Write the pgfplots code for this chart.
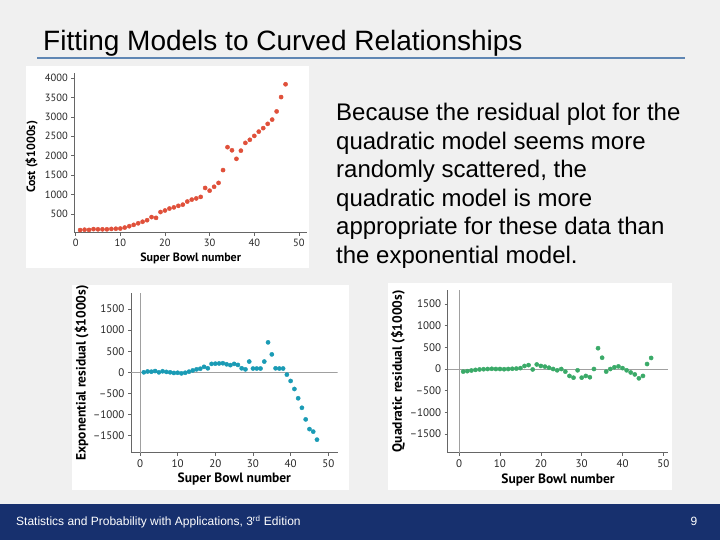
\documentclass[border=0pt]{standalone}
\usepackage{pgfplots}
\pgfplotsset{compat=1.18}
\usepackage{fontspec}
\setmainfont{Liberation Sans}
\newfontfamily\plotfont{PT Sans}

\definecolor{slidebg}{HTML}{F0F0F0}
\definecolor{footbg}{HTML}{17306E}
\definecolor{rulecol}{HTML}{5F86B3}
\definecolor{costred}{HTML}{E0503A}
\definecolor{expteal}{HTML}{1A9BB5}
\definecolor{quadgreen}{HTML}{3AAA68}
\definecolor{axgray}{HTML}{666666}
\definecolor{zerogray}{HTML}{A0A0A0}

\newcommand{\labfont}{\plotfont\bfseries\fontsize{13.5}{15}\selectfont}
\newcommand{\smalllabfont}{\plotfont\bfseries\fontsize{12}{13}\selectfont}
\pgfplotsset{
  panel/.style={
    scale only axis,
    anchor=south west,
    axis lines=left,
    axis line style={-, axgray, line width=0.6pt},
    tick style={axgray, line width=0.6pt},
    tick align=outside,
    major tick length=3pt,
    /pgf/number format/assume math mode=true,
    /pgf/number format/1000 sep={},
    tick label style={font=\plotfont\fontsize{11}{12}\selectfont, text=black!85},
  },
}

\begin{document}
\begin{tikzpicture}
\fill[slidebg] (0pt,0pt) rectangle (720pt,540pt);
\fill[footbg] (0pt,0pt) rectangle (720pt,36pt);
\draw[rulecol, line width=2pt] (37pt,482.3pt) -- (685pt,482.3pt);
\node[anchor=base west, inner sep=0pt, font=\fontsize{28}{33}\selectfont] at (43pt,489pt) {Fitting Models to Curved Relationships};
\node[anchor=base west, inner sep=0pt, text=white, font=\fontsize{12}{14}\selectfont] at (16pt,14pt) {Statistics and Probability with Applications, 3\textsuperscript{rd} Edition};
\node[anchor=base, inner sep=0pt, text=white, font=\fontsize{12}{14}\selectfont] at (694pt,14pt) {9};
\begin{scope}[every node/.style={anchor=base west, inner sep=0pt, font=\fontsize{24}{28}\selectfont}]
\node at (336pt,419pt) {Because the residual plot for the};
\node at (336pt,390.5pt) {quadratic model seems more};
\node at (336pt,362pt) {randomly scattered, the};
\node at (336pt,333.5pt) {quadratic model is more};
\node at (336pt,305pt) {appropriate for these data than};
\node at (336pt,276.5pt) {the exponential model.};
\end{scope}

\fill[white] (26pt,272pt) rectangle (309pt,474pt);
\fill[white] (72pt,50pt) rectangle (349pt,255pt);
\fill[white] (388pt,50pt) rectangle (672pt,257pt);

% cost against Super Bowl number
\begin{axis}[panel, at={(74.3pt,307.3pt)}, width=232.7pt, height=159.7pt,
  xmin=-0.3, xmax=51.8, ymin=18, ymax=4130,
  xtick={0,10,...,50}, ytick={500,1000,...,4000},
  tick label style={font=\plotfont\fontsize{10.5}{11}\selectfont},
  xlabel={Super Bowl number}, ylabel={Cost (\$1000s)},
  xlabel style={at={(axis description cs:0.5,-0.182)}, anchor=base, font=\smalllabfont},
  ylabel style={at={(axis description cs:-0.183,0.474)}, anchor=center, font=\smalllabfont}]
\addplot[only marks, mark=*, mark size=2.1pt, color=costred] coordinates {
(1,85) (2,95) (3,90) (4,110) (5,105) (6,105) (7,105) (8,115) (9,120) (10,125)
(11,150) (12,185) (13,220) (14,260) (15,300) (16,340) (17,420) (18,400) (19,550) (20,590)
(21,640) (22,670) (23,710) (24,740) (25,820) (26,870) (27,900) (28,940) (29,1170) (30,1100)
(31,1200) (32,1300) (33,1630) (34,2220) (35,2140) (36,1920) (37,2130) (38,2330) (39,2410) (40,2510)
(41,2620) (42,2710) (43,2820) (44,2930) (45,3140) (46,3510) (47,3840)};
\end{axis}

% exponential model residuals
\begin{axis}[panel, at={(131pt,87.3pt)}, width=206.7pt, height=159.4pt,
  xmin=-2.4, xmax=52.5, ymin=-1904, ymax=1872,
  xtick={0,10,...,50}, ytick={-1500,-1000,...,1500},
  yticklabels={\textendash 1500,\textendash 1000,\textendash 500,0,500,1000,1500},
  xlabel={Super Bowl number}, ylabel={Exponential residual (\$1000s)},
  xlabel style={at={(axis description cs:0.5,-0.19)}, anchor=base, font=\labfont},
  ylabel style={at={(axis description cs:-0.2385,0.5)}, anchor=center, font=\labfont}]
\addplot[zerogray, line width=0.8pt, no marks] coordinates {(-2.4,0) (52.5,0)};
\addplot[zerogray, line width=0.8pt, no marks] coordinates {(0,-1904) (0,1872)};
\addplot[only marks, mark=*, mark size=2.1pt, color=expteal] coordinates {
(1,0) (2,20) (3,15) (4,30) (5,0) (6,25) (7,10) (8,0) (9,-15) (10,-10)
(11,-25) (12,-10) (13,15) (14,45) (15,70) (16,85) (17,130) (18,95) (19,200) (20,205)
(21,210) (22,215) (23,190) (24,170) (25,200) (26,175) (27,95) (28,70) (29,255) (30,90)
(31,90) (32,90) (33,255) (34,710) (35,425) (36,95) (37,90) (38,90) (39,-55) (40,-205)
(41,-395) (42,-615) (43,-840) (44,-1115) (45,-1345) (46,-1405) (47,-1595)};
\end{axis}

% quadratic model residuals
\begin{axis}[panel, at={(447.7pt,87.3pt)}, width=220.6pt, height=162.7pt,
  xmin=-2.8, xmax=51.2, ymin=-1931, ymax=1823,
  xtick={0,10,...,50}, ytick={-1500,-1000,...,1500},
  yticklabels={\textendash 1500,\textendash 1000,\textendash 500,0,500,1000,1500},
  xlabel={Super Bowl number}, ylabel={Quadratic residual (\$1000s)},
  xlabel style={at={(axis description cs:0.5,-0.192)}, anchor=base, font=\labfont},
  ylabel style={at={(axis description cs:-0.225,0.5)}, anchor=center, font=\labfont}]
\addplot[zerogray, line width=0.8pt, no marks] coordinates {(-2.8,0) (51.2,0)};
\addplot[zerogray, line width=0.8pt, no marks] coordinates {(0,-1931) (0,1823)};
\addplot[only marks, mark=*, mark size=2.1pt, color=quadgreen] coordinates {
(1,-60) (2,-50) (3,-35) (4,-20) (5,-10) (6,-5) (7,0) (8,5) (9,0) (10,0)
(11,-5) (12,0) (13,5) (14,10) (15,20) (16,70) (17,90) (18,-10) (19,105) (20,70)
(21,55) (22,30) (23,0) (24,-30) (25,0) (26,-60) (27,-160) (28,-200) (29,-30) (30,-200)
(31,-160) (32,-190) (33,0) (34,480) (35,260) (36,-60) (37,0) (38,40) (39,60) (40,20)
(41,-30) (42,-80) (43,-125) (44,-215) (45,-160) (46,115) (47,255)};
\end{axis}

\pgfresetboundingbox
\useasboundingbox (0pt,0pt) rectangle (720pt,540pt);
\end{tikzpicture}
\end{document}
